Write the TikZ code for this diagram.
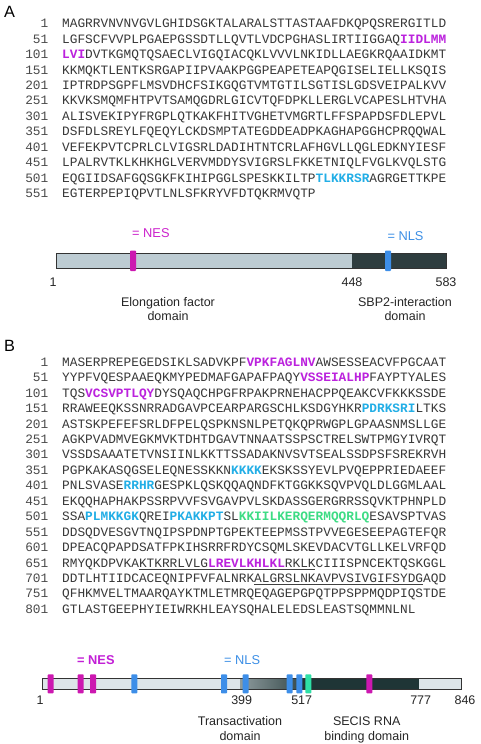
\documentclass[tikz,border=0pt]{standalone}
\usepackage{fontspec}
\setmainfont{Liberation Sans}
\newfontfamily\seqfont{Liberation Mono}
\newfontfamily\lblfont{Liberation Sans}
\definecolor{seqgray}{HTML}{383838}
\definecolor{numgray}{HTML}{4A4A4A}
\definecolor{nestxt}{HTML}{BB22DD}
\definecolor{nlstxt}{HTML}{22AEE6}
\definecolor{grntxt}{HTML}{3DDC84}
\definecolor{nesmark}{HTML}{CC18B0}
\definecolor{nlsmark}{HTML}{3D8EE8}
\definecolor{grnmark}{HTML}{2EE0A6}
\definecolor{neslbl}{HTML}{C21FD6}
\definecolor{neslblA}{HTML}{CC22CC}
\definecolor{nlslbl}{HTML}{3C8FE6}
\definecolor{barlightA}{HTML}{BDCCD3}
\definecolor{bardarkA}{HTML}{2E3D3F}
\definecolor{barlightB}{HTML}{DDE5E9}
\definecolor{bardarkB}{HTML}{1F3536}
\definecolor{barmidB}{HTML}{8E9B9D}
\newcommand\myNes[1]{{\color{nestxt}\bfseries #1}}
\newcommand\myNls[1]{{\color{nlstxt}\bfseries #1}}
\newcommand\myGrn[1]{{\color{grntxt}\bfseries #1}}
\tikzset{
  seqst/.style={inner sep=0pt, anchor=base west, text=seqgray, font=\seqfont\fontsize{12.8}{15}\selectfont},
  numst/.style={inner sep=0pt, anchor=base east, text=numgray, font=\seqfont\fontsize{12.8}{15}\selectfont},
  lbl/.style={inner sep=0pt, anchor=base, text=black!85, font=\lblfont\fontsize{12.5}{14}\selectfont},
  panel/.style={inner sep=0pt, anchor=base west, font=\lblfont\fontsize{16.3}{18}\selectfont},
  barline/.style={draw=black!80, line width=0.8pt},
  markbox/.style={rounded corners=0.8pt},
  ulin/.style={draw=black!75, line width=0.7pt}
}
\newcommand\seqA[3]{%
  \node[numst] (an#1) at (48.5,{27.7+15.45*#1}) {#2};
  \node[seqst] (as#1) at (62,{27.7+15.45*#1}) {#3};}
\newcommand\seqB[3]{%
  \node[numst] (bn#1) at (48.5,{366.2+15.45*#1}) {#2};
  \node[seqst] (bs#1) at (62,{366.2+15.45*#1}) {#3};}
\begin{document}
\begin{tikzpicture}[x=1pt,y=-1pt]
\path[use as bounding box, fill=white] (0,0) rectangle (480,744);

% ---------- Panel A ----------
\node[panel] (pA) at (4,17.3) {A};
\seqA{0}{1}{MAGRRVNVNVGVLGHIDSGKTALARALSTTASTAAFDKQPQSRERGITLD}
\seqA{1}{51}{LGFSCFVVPLPGAEPGSSDTLLQVTLVDCPGHASLIRTIIGGAQ\myNes{IIDLMM}}
\seqA{2}{101}{\myNes{LVI}DVTKGMQTQSAECLVIGQIACQKLVVVLNKIDLLAEGKRQAAIDKMT}
\seqA{3}{151}{KKMQKTLENTKSRGAPIIPVAAKPGGPEAPETEAPQGISELIELLKSQIS}
\seqA{4}{201}{IPTRDPSGPFLMSVDHCFSIKGQGTVMTGTILSGTISLGDSVEIPALKVV}
\seqA{5}{251}{KKVKSMQMFHTPVTSAMQGDRLGICVTQFDPKLLERGLVCAPESLHTVHA}
\seqA{6}{301}{ALISVEKIPYFRGPLQTKAKFHITVGHETVMGRTLFFSPAPDSFDLEPVL}
\seqA{7}{351}{DSFDLSREYLFQEQYLCKDSMPTATEGDDEADPKAGHAPGGHCPRQQWAL}
\seqA{8}{401}{VEFEKPVTCPRLCLVIGSRLDADIHTNTCRLAFHGVLLQGLEDKNYIESF}
\seqA{9}{451}{LPALRVTKLKHKHGLVERVMDDYSVIGRSLFKKETNIQLFVGLKVQLSTG}
\seqA{10}{501}{EQGIIDSAFGQSGKFKIHIPGGLSPESKKILTP\myNls{TLKKRSR}AGRGETTKPE}
\seqA{11}{551}{EGTERPEPIQPVTLNLSFKRYVFDTQKRMVQTP}

\node[lbl, anchor=base west, text=neslblA, font=\lblfont\fontsize{12.8}{14}\selectfont] (anes) at (132,237.7) {= NES};
\node[lbl, anchor=base west, text=nlslbl, font=\lblfont\fontsize{12.8}{14}\selectfont] (anls) at (387.3,240) {= NLS};

\fill[barlightA] (56.7,253.5) rectangle (352.3,268.3);
\fill[bardarkA] (352.3,253.5) rectangle (446,268.3);
\draw[barline] (56.7,253.5) rectangle (446,268.3);
\fill[nesmark, markbox] (130,250.5) rectangle (136,271);
\fill[nlsmark, markbox] (385,250.5) rectangle (391,271);

\node[lbl] (a1) at (53,286) {1};
\node[lbl] (a448) at (352,286) {448};
\node[lbl] (a583) at (446,286) {583};
\node[lbl] (aef1) at (168,306) {Elongation factor};
\node[lbl] (aef2) at (168,320) {domain};
\node[lbl] (asb1) at (405,306) {SBP2-interaction};
\node[lbl] (asb2) at (405,320) {domain};

% ---------- Panel B ----------
\node[panel] (pB) at (4,351.7) {B};
\seqB{0}{1}{MASERPREPEGEDSIKLSADVKPF\myNes{VPKFAGLNV}AWSESSEACVFPGCAAT}
\seqB{1}{51}{YYPFVQESPAAEQKMYPEDMAFGAPAFPAQY\myNes{VSSEIALHP}FAYPTYALES}
\seqB{2}{101}{TQS\myNes{VCSVPTLQY}DYSQAQCHPGFRPAKPRNEHACPPQEAKCVFKKKSSDE}
\seqB{3}{151}{RRAWEEQKSSNRRADGAVPCEARPARGSCHLKSDGYHKR\myNls{PDRKSRI}LTKS}
\seqB{4}{201}{ASTSKPEFEFSRLDFPELQSPKNSNLPETQKQPRWGPLGPAASNMSLLGE}
\seqB{5}{251}{AGKPVADMVEGKMVKTDHTDGAVTNNAATSSPSCTRELSWTPMGYIVRQT}
\seqB{6}{301}{VSSDSAAATETVNSIINLKKTTSSADAKNVSVTSEALSSDPSFSREKRVH}
\seqB{7}{351}{PGPKAKASQGSELEQNESSKKN\myNls{KKKK}EKSKSSYEVLPVQEPPRIEDAEEF}
\seqB{8}{401}{PNLSVASE\myNls{RRHR}GESPKLQSKQQAQNDFKTGGKKSQVPVQLDLGGMLAAL}
\seqB{9}{451}{EKQQHAPHAKPSSRPVVFSVGAVPVLSKDASSGERGRRSSQVKTPHNPLD}
\seqB{10}{501}{SSA\myNls{PLMKKGK}QREI\myNls{PKAKKPT}SL\myGrn{KKIILKERQERMQQRLQ}ESAVSPTVAS}
\seqB{11}{551}{DDSQDVESGVTNQIPSPDNPTGPEKTEEPMSSTPVVEGESEEPAGTEFQR}
\seqB{12}{601}{DPEACQPAPDSATFPKIHSRRFRDYCSQMLSKEVDACVTGLLKELVRFQD}
\seqB{13}{651}{RMYQKDPVKAKTKRRLVLG\myNes{LREVLKHLKL}RKLKCIIISPNCEKTQSKGGL}
\seqB{14}{701}{DDTLHTIIDCACEQNIPFVFALNRKALGRSLNKAVPVSIVGIFSYDGAQD}
\seqB{15}{751}{QFHKMVELTMAARQAYKTMLETMRQEQAGEPGPQTPPSPPMQDPIQSTDE}
\seqB{16}{801}{GTLASTGEEPHYIEIWRKHLEAYSQHALELEDSLEASTSQMMNLNL}

\draw[ulin] ([xshift=76.8pt,yshift=-1.9pt]bs13.base west) -- ++(176.6,0);
\draw[ulin] ([xshift=192pt,yshift=-1.9pt]bs14.base west) -- ++(169,0);

\node[lbl, anchor=base west, text=neslbl, font=\lblfont\bfseries\fontsize{12.8}{14}\selectfont] (bnes) at (77,664) {= NES};
\node[lbl, anchor=base west, text=nlslbl, font=\lblfont\fontsize{12.8}{14}\selectfont] (bnls) at (224,664) {= NLS};

\fill[barlightB] (42.7,678.5) rectangle (461.7,689);
\shade[left color=barmidB, right color=bardarkB!90] (240,678.5) rectangle (301.7,689);
\fill[bardarkB] (301.7,678.5) rectangle (419.3,689);
\draw[barline] (42.7,678.5) rectangle (461.7,689);
\foreach \mx in {50.7,80.7,93,369.3}
  \fill[nesmark, markbox] ({\mx-3},674.3) rectangle ({\mx+3},693.3);
\foreach \mx in {134.3,224,245.7,289.7,299.3}
  \fill[nlsmark, markbox] ({\mx-3},674.3) rectangle ({\mx+3},693.3);
\fill[grnmark, markbox] (305.3,674.3) rectangle (311.3,693.3);

\node[lbl] (b1) at (40,704) {1};
\node[lbl] (b399) at (241.7,704) {399};
\node[lbl] (b517) at (301.7,704) {517};
\node[lbl] (b777) at (420.7,704) {777};
\node[lbl] (b846) at (465,704) {846};
\node[lbl] (bta1) at (240,725) {Transactivation};
\node[lbl] (bta2) at (240,740) {domain};
\node[lbl] (bse1) at (366.7,725) {SECIS RNA};
\node[lbl] (bse2) at (366.7,740) {binding domain};
\end{tikzpicture}
\end{document}
